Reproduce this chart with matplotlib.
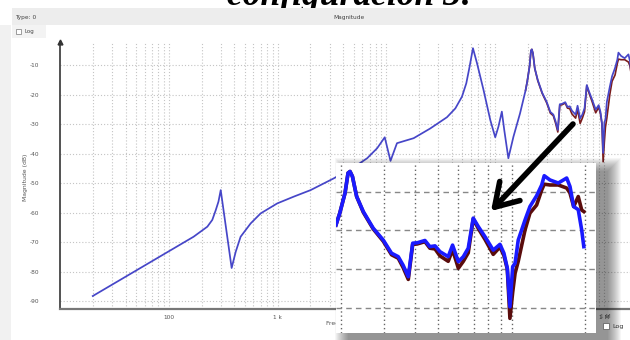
import matplotlib
matplotlib.use('Agg')
import matplotlib.pyplot as plt
from matplotlib.patches import Rectangle, FancyArrowPatch

W, H = 630, 340

# Respuesta en frecuencia: tramo bajo (solo una curva visible)
freq_lo = [20, 169, 226, 251, 270, 286, 300, 378, 412, 457,
           565, 698, 993, 1410, 2010, 3290, 5380, 6650, 8220, 9650,
           10900, 12500, 17800, 25300, 36000, 43000, 49500, 54200, 58100, 62400,
           68000, 78100, 90000, 100000, 107000, 115000, 121000, 132000, 147000, 169000]
mag_lo = [-88.3, -68.2, -64.8, -62.5, -59.2, -56.3, -52.4, -78.8, -73.3, -68.2,
          -63.7, -60.3, -56.9, -54.6, -52.4, -48.4, -43.9, -41.6, -38.2, -34.5,
          -42.5, -36.5, -34.8, -31.5, -27.7, -24.7, -20.7, -16.2, -10.6, -4.3,
          -9.4, -18.5, -28.6, -34.5, -30.9, -25.8, -32.0, -41.6, -34.3, -26.4]

# Tramo alto: medida (azul) y modelo (rojo oscuro)
freq_hi = [190e3, 197e3, 207e3, 213e3, 217e3, 222e3, 231e3, 246e3, 270e3, 297e3,
           321e3, 342e3, 358e3, 376e3, 392e3, 409e3, 440e3, 461e3, 484e3, 507e3,
           548e3, 571e3, 603e3, 632e3, 662e3, 694e3, 728e3, 775e3, 838e3, 893e3,
           927e3, 957e3, 981e3, 1.007e6, 1.03e6, 1.061e6, 1.131e6, 1.185e6, 1.262e6,
           1.324e6, 1.356e6, 1.431e6, 1.548e6, 1.676e6, 1.729e6, 1.79e6, 1.869e6,
           1.931e6, 1.97e6]
mag_blue_hi = [-18.6, -15.5, -10.3, -5.1, -4.7, -6.0, -11.2, -15.1, -19.4, -22.5,
               -25.9, -26.8, -29.0, -32.0, -23.3, -23.2, -22.6, -24.2, -24.0, -25.5,
               -26.8, -23.8, -28.1, -26.8, -24.6, -16.8, -19.0, -21.6, -25.1, -23.6,
               -25.9, -29.8, -39.8, -29.4, -28.5, -22.5, -17.3, -13.8, -11.0, -8.2,
               -5.8, -6.9, -7.7, -6.4, -8.6, -13.8, -14.6, -19.9, -24.2]
mag_red_hi = [-18.6, -15.5, -10.3, -5.1, -4.7, -6.0, -11.2, -15.3, -19.6, -22.8,
              -26.3, -27.2, -29.6, -32.7, -23.6, -23.5, -22.9, -24.6, -24.8, -26.6,
              -28.0, -25.0, -29.8, -28.0, -25.8, -17.0, -19.5, -22.3, -26.2, -24.3,
              -26.5, -30.0, -42.8, -36.0, -31.1, -28.0, -19.9, -15.5, -13.4, -9.5,
              -8.0, -8.2, -8.2, -9.0, -10.3, -13.8, -11.2, -14.7, -15.1]

x_ticks = [100, 1e3, 1e4, 1e5, 1e6]
x_tick_labels = ['100', '1 k', '10 k', '100 k', '1 M']
y_ticks = [-10, -20, -30, -40, -50, -60, -70, -80, -90]
inset_y_grid = [-10, -20, -30, -40]
inset_x_grid = [2e5, 3e5, 4e5, 5e5, 6e5, 7e5, 8e5, 9e5, 1e6, 2e6]


def fx(x):
    return x / W


def fy(y):
    return 1 - y / H


def rect_px(x0, y0, w, h, **kw):
    return Rectangle((fx(x0), fy(y0 + h)), w / W, h / H, transform=fig.transFigure, **kw)


fig = plt.figure(figsize=(W / 100, H / 100), dpi=100)

# titulo (cortado por la captura)
fig.text(fx(227), fy(5), 'configuración 3:', family='Liberation Serif', weight='bold',
         style='italic', fontsize=25.6, va='baseline', ha='left', zorder=0)

# marco de la ventana
fig.add_artist(rect_px(12, 8, 618, 17, facecolor='#ededed', edgecolor='none', zorder=5))
fig.add_artist(rect_px(0, 25, 11, 315, facecolor='#f1f1f1', edgecolor='none', zorder=5))
fig.add_artist(rect_px(12, 25, 34, 13, facecolor='#f3f3f3', edgecolor='none', zorder=5))
fig.text(fx(15), fy(17), 'Type: 0', fontsize=4.2, color='#444444', va='center', zorder=6)
fig.text(fx(333), fy(17), 'Magnitude', fontsize=4.2, color='#444444', va='center', zorder=6)
fig.add_artist(rect_px(16, 29, 5, 5, facecolor='white', edgecolor='#777777', lw=0.5, zorder=6))
fig.text(fx(24), fy(31.5), 'Log', fontsize=4, color='#444444', va='center', zorder=6)

# grafica principal
ax = fig.add_axes([fx(60), fy(309), fx(630) - fx(60), fy(42) - fy(309)], zorder=1)
ax.set_xscale('log')
ax.set_xlim(10, 1.732e6)
ax.set_ylim(-92.7, -2.2)
for d in range(1, 7):
    for m in range(1, 10):
        f = m * 10 ** d
        if f >= 20:
            ax.axvline(f, color='#c4c4c4', lw=0.8, ls=(0, (1, 1.8)), zorder=0)
for yv in y_ticks:
    ax.axhline(yv, color='#c4c4c4', lw=0.8, ls=(0, (1, 1.8)), zorder=0)

ax.plot(freq_hi, mag_red_hi, color='#7a1c1c', lw=1.2, zorder=2)
ax.plot(freq_lo + freq_hi, mag_lo + mag_blue_hi, color='#4646c8', lw=1.25, zorder=3)

ax.set_xticks(x_ticks)
ax.set_xticklabels(x_tick_labels)
ax.set_xticks([], minor=True)
ax.set_yticks(y_ticks)
ax.set_yticklabels([str(v) for v in y_ticks])
ax.tick_params(axis='both', length=0, labelsize=4.2, labelcolor='#555555')
ax.tick_params(axis='y', pad=15)
ax.tick_params(axis='x', pad=4)
for s in ['top', 'right']:
    ax.spines[s].set_visible(False)
ax.spines['left'].set_color('#444444')
ax.spines['left'].set_linewidth(1.3)
ax.spines['bottom'].set_color('#777777')
ax.spines['bottom'].set_linewidth(1.6)
ax.plot([0], [1], marker='^', color='#333333', markersize=3.5, transform=ax.transAxes,
        clip_on=False, zorder=5)
fig.text(fx(25), fy(177), 'Magnitude (dB)', rotation=90, fontsize=4.4, color='#555555',
         va='center', ha='center', zorder=2)
fig.text(fx(326), fy(323), 'Frequency (Hz)', fontsize=4.4, color='#555555',
         va='center', ha='left', zorder=1)

# sombra de la ampliacion
for i in range(14):
    fig.add_artist(rect_px(336 + 12 - i, 163 + 8 - i, 260 + 2 * i, 170 + 2 * i,
                           facecolor='black', edgecolor='none', alpha=0.035, zorder=2))

# ampliacion del tramo alto
ins = fig.add_axes([fx(336), fy(333), 260 / W, 170 / H], zorder=3)
ins.set_xscale('log')
ins.set_xlim(190.1e3, 2.21e6)
ins.set_ylim(-46.6, -2.5)
for f in inset_x_grid:
    ins.axvline(f, color='#666666', lw=1.0, ls=(0, (1, 2)), zorder=0)
for yv in inset_y_grid:
    ins.axhline(yv, color='#888888', lw=1.0, ls=(0, (4, 3)), zorder=0)
ins.plot(freq_hi, mag_red_hi, color='#5a0c0c', lw=2.6, zorder=2)
ins.plot(freq_hi, mag_blue_hi, color='#1a1aff', lw=2.6, zorder=3)
ins.set_xticks([])
ins.set_yticks([])
ins.minorticks_off()
for s in ins.spines.values():
    s.set_visible(False)

# flecha
fig.add_artist(FancyArrowPatch((fx(573), fy(124)), (fx(491), fy(211)),
                               transform=fig.transFigure,
                               arrowstyle='->,head_length=0.8,head_width=0.5',
                               mutation_scale=20, lw=4, color='black',
                               shrinkA=0, shrinkB=0, zorder=7))

# casilla Log inferior
fig.text(fx(605), fy(316), '1 M', fontsize=4.2, color='#555555', va='center', ha='center', zorder=4)
fig.add_artist(rect_px(603, 323, 6, 6, facecolor='white', edgecolor='#666666', lw=0.6, zorder=6))
fig.text(fx(612), fy(326.5), 'Log', fontsize=4.6, color='#333333', va='center', zorder=6)

fig.savefig('out.png', dpi=100)
